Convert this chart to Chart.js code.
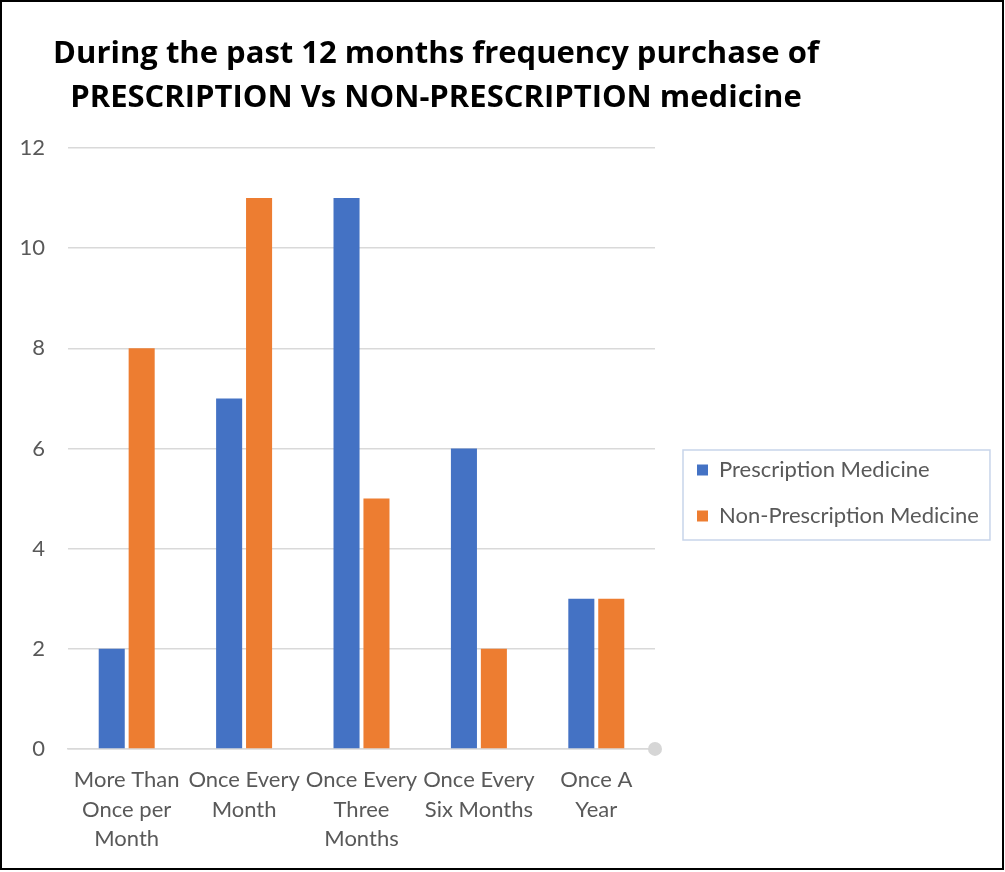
<!DOCTYPE html>
<html>
<head>
  <title>Prescription vs Non-Prescription Purchase Frequency</title>
  <script src="https://cdn.jsdelivr.net/npm/chart.js"></script>
  <style>
    body {
      margin: 0;
      background-color: #fff;
    }

    #frame {
      position: absolute;
      left: 0;
      top: 0;
      width: 1000px;
      height: 866px;
      border: 2px solid #000;
      pointer-events: none;
    }

    canvas {
      position: absolute;
      left: 0;
      top: 0;
    }
  </style>
</head>
<body>
<canvas id="barChart" width="1005" height="872"></canvas>
<div id="frame"></div>

<script>
  const categories = [
    ['More Than', 'Once per', 'Month'],
    ['Once Every', 'Month'],
    ['Once Every', 'Three', 'Months'],
    ['Once Every', 'Six Months'],
    ['Once A', 'Year']
  ];
  const prescription = [2, 7, 11, 6, 3];
  const nonPrescription = [8, 11, 5, 2, 3];
  const seriesNames = ['Prescription Medicine', 'Non-Prescription Medicine'];
  const titleLines = [
    'During the past 12 months frequency purchase of',
    'PRESCRIPTION Vs NON-PRESCRIPTION medicine'
  ];

  const gray = '#595959';
  const gridColor = '#d9d9d9';

  // moves the title and legend to where Excel had them, draws the legend frame
  const excelLook = {
    id: 'excelLook',
    afterLayout(chart) {
      const t = chart.titleBlock;
      const half = (t.right - t.left) / 2;
      t.left = 436 - half;
      t.right = 436 + half;

      const lg = chart.legend;
      const h = lg.bottom - lg.top;
      lg.left = 673;
      lg.right = lg.left + 330;
      lg.top = 435;
      lg.bottom = lg.top + h;
    },
    afterDraw(chart) {
      const ctx = chart.ctx;
      const area = chart.chartArea;
      const boxes = chart.legend.legendHitBoxes;

      // round cap at the end of the category axis
      ctx.save();
      ctx.fillStyle = '#d6d6d6';
      ctx.beginPath();
      ctx.arc(area.right, area.bottom, 7, 0, Math.PI * 2);
      ctx.fill();

      if (boxes && boxes.length) {
        const first = boxes[0];
        const last = boxes[boxes.length - 1];
        const right = Math.max(...boxes.map(b => b.left + b.width));
        const x0 = first.left - 14, y0 = first.top - 9;
        ctx.strokeStyle = '#c8d5ea';
        ctx.lineWidth = 1.5;
        ctx.strokeRect(x0, y0, right + 11 - x0, last.top + last.height + 13 - y0);
      }
      ctx.restore();
    }
  };

  new Chart(document.getElementById('barChart').getContext('2d'), {
    type: 'bar',
    data: {
      labels: categories,
      datasets: [
        {
          label: seriesNames[0],
          data: prescription,
          backgroundColor: '#4472c4',
          categoryPercentage: 0.51,
          barPercentage: 0.87
        },
        {
          label: seriesNames[1],
          data: nonPrescription,
          backgroundColor: '#ed7d31',
          categoryPercentage: 0.51,
          barPercentage: 0.87
        }
      ]
    },
    options: {
      responsive: false,
      animation: false,
      layout: {
        padding: { top: 8, right: 150, bottom: 2, left: 0 }
      },
      plugins: {
        title: {
          display: true,
          text: titleLines,
          color: '#000',
          font: { family: 'Open Sans', size: 31, weight: 'bold', lineHeight: 1.42 },
          padding: { top: 24, bottom: 28 }
        },
        legend: {
          position: 'right',
          align: 'start',
          maxWidth: 200,
          labels: {
            boxWidth: 11,
            boxHeight: 11,
            padding: 24,
            color: gray,
            font: { family: 'Lato', size: 22 }
          }
        },
        tooltip: { enabled: false }
      },
      scales: {
        x: {
          grid: { display: false, drawTicks: false },
          border: { color: gridColor, width: 1.5 },
          ticks: {
            color: gray,
            padding: 17,
            maxRotation: 0,
            autoSkip: false,
            font: { family: 'Lato', size: 22, lineHeight: 1.32 }
          }
        },
        y: {
          min: 0,
          max: 12,
          afterFit(scale) { scale.width = 68; },
          grid: { color: gridColor, lineWidth: 1.5, drawTicks: false },
          border: { display: false },
          ticks: {
            stepSize: 2,
            color: gray,
            padding: 23,
            font: { family: 'Lato', size: 22 }
          }
        }
      }
    },
    plugins: [excelLook]
  });
</script>
</body>
</html>
